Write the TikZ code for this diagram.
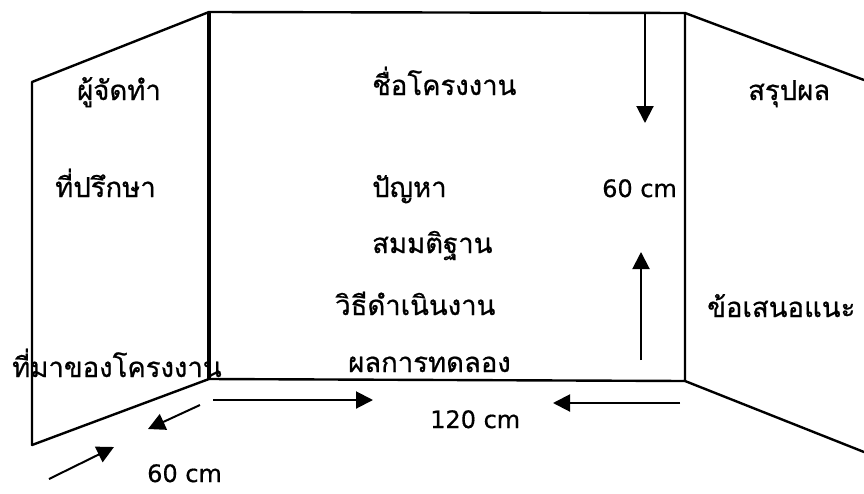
\documentclass[tikz,border=0pt]{standalone}
\usepackage{fontspec}
\newfontfamily\thaifont[Script=Thai,FakeBold=0.7]{Loma}
\newfontfamily\latinfont[FakeBold=0.5]{DejaVu Sans}
\usetikzlibrary{arrows.meta}
\begin{document}
\begin{tikzpicture}[x=1pt,y=-1pt,
  edge/.style={line width=2.4pt,line cap=round,line join=round},
  thick edge/.style={line width=3.2pt},
  dim/.style={line width=2pt,-{Triangle[length=17pt,width=17pt]}},
  lbl/.style={font=\thaifont\fontsize{27.5}{32}\selectfont,inner sep=0pt,anchor=base west},
  num/.style={font=\latinfont\fontsize{24}{28}\selectfont,inner sep=0pt,anchor=base west}]
\useasboundingbox (0,0) rectangle (864,493);
% corners
\coordinate (LT) at (32,82);
\coordinate (LB) at (32,445);
\coordinate (MTL) at (209,12);
\coordinate (MBL) at (209,379);
\coordinate (MTR) at (685,13);
\coordinate (MBR) at (685,381);
\coordinate (RT) at (864,80);
\coordinate (RB) at (864,452);
% panels
\draw[edge] (LB) -- (LT) -- (MTL);
\draw[edge] (LB) -- (MBL);
\draw[edge] (MTL) -- (MTR) -- (MBR) -- (MBL);
\draw[thick edge] (MTL) -- (MBL);
\draw[edge] (MTR) -- (RT);
\draw[edge] (MBR) -- (RB);
% labels
\node[lbl] (a) at (77,100) {ผู้จัดทำ};
\node[lbl] (b) at (55,197) {ที่ปรึกษา};
\node[lbl] (c) at (12,377) {ที่มาของโครงงาน};
\node[lbl] (d) at (372,95) {ชื่อโครงงาน};
\node[lbl] (e) at (372,197) {ปัญหา};
\node[lbl] (f) at (372,253) {สมมติฐาน};
\node[lbl] (g) at (335,315) {วิธีดำเนินงาน};
\node[lbl] (h) at (348,372) {ผลการทดลอง};
\node[lbl] (i) at (748,100) {สรุปผล};
\node[lbl] (j) at (707,317) {ข้อเสนอแนะ};
\node[num] (k) at (602,197) {60 cm};
\node[num] (l) at (430,428) {120 cm};
\node[num] (m) at (147,482) {60 cm};
% dimension arrows
\coordinate (d1s) at (645,14);
\coordinate (d1e) at (645,123);
\coordinate (d2s) at (641,360);
\coordinate (d2e) at (641,252);
\coordinate (d3s) at (213,400);
\coordinate (d3e) at (373,400);
\coordinate (d4s) at (680,403);
\coordinate (d4e) at (553,403);
\coordinate (d5s) at (200,405);
\coordinate (d5e) at (148,429);
\coordinate (d6s) at (49,479);
\coordinate (d6e) at (114,447);
\draw[dim] (d1s) -- (d1e);
\draw[dim] (d2s) -- (d2e);
\draw[dim] (d3s) -- (d3e);
\draw[dim] (d4s) -- (d4e);
\draw[dim] (d5s) -- (d5e);
\draw[dim] (d6s) -- (d6e);
\end{tikzpicture}
\end{document}
